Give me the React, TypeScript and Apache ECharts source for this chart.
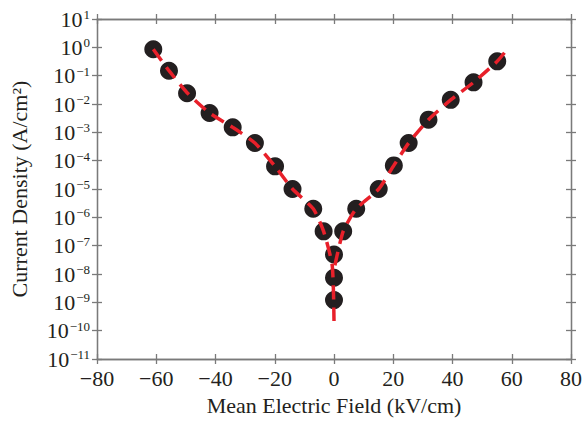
import React, { useEffect, useRef } from "react";
import * as echarts from "echarts";

// Measured points (Mean Electric Field kV/cm, Current Density A/cm^2)
const pointField = [-61, -55.7, -49.6, -42, -34.2, -26.7, -19.9, -14, -7, -3.5, 0, 0, 0, 3.1, 7.5, 15.1, 20.2, 25.2, 31.9, 39.4, 47.1, 55.1];
const pointCurrent = [0.86, 0.15, 0.024, 4.8e-3, 1.5e-3, 4.2e-4, 6.3e-5, 1.0e-5, 2.0e-6, 3.2e-7, 4.9e-8, 7.4e-9, 1.2e-9, 3.2e-7, 2.0e-6, 1.0e-5, 6.8e-5, 4.2e-4, 2.8e-3, 1.4e-2, 5.8e-2, 0.32];

// Fit curve (negative field branch, running down to the centre)
const fitLeftField = [-61, -55.7, -49.6, -42, -34.2, -26.7, -19.9, -14, -7, -3.5, -0.6, 0];
const fitLeftCurrent = [0.85, 0.15, 0.025, 4.8e-3, 1.5e-3, 4.2e-4, 6.3e-5, 1.0e-5, 2.0e-6, 3.2e-7, 2.0e-8, 2.2e-10];
// Fit curve (positive field branch)
const fitRightField = [0.3, 3.1, 7.5, 15.1, 20.2, 25.2, 31.9, 39.4, 47.1, 55.1, 58.3];
const fitRightCurrent = [2.0e-8, 3.2e-7, 2.0e-6, 1.0e-5, 6.8e-5, 4.2e-4, 2.8e-3, 1.4e-2, 5.8e-2, 0.32, 0.81];

const xTicks = { min: -80, max: 80, interval: 20 };
const yRange = { min: 1e-11, max: 10 };

const FONT = "Liberation Serif";
const TXT = "#231f20";
const AX = "#7a7a7a";

export default function App() {
  const ref = useRef<HTMLDivElement>(null);
  useEffect(() => {
    if (!ref.current) return;
    const chart = echarts.init(ref.current, undefined, { renderer: "svg" });
    const pts = pointField.map((x, i) => [x, pointCurrent[i]]);
    const fl = fitLeftField.map((x, i) => [x, fitLeftCurrent[i]]);
    const fr = fitRightField.map((x, i) => [x, fitRightCurrent[i]]);

    const xBase = (position: string, inside: boolean, labels: boolean) => ({
      type: "value",
      position,
      min: xTicks.min,
      max: xTicks.max,
      interval: xTicks.interval,
      axisLine: { show: true, onZero: false, lineStyle: { color: AX, width: 1.3 } },
      axisTick: { show: true, inside, length: 5, lineStyle: { color: AX, width: 1.3 } },
      axisLabel: {
        show: labels,
        margin: 8,
        fontFamily: FONT,
        fontSize: 22,
        color: TXT,
        formatter: (v: number) => (v < 0 ? "\u2212" + Math.abs(v) : String(v)),
      },
      splitLine: { show: false },
      name: labels ? "Mean Electric Field (kV/cm)" : "",
      nameLocation: "middle",
      nameGap: 35,
      nameTextStyle: { fontFamily: FONT, fontSize: 22, color: TXT },
    });
    const yBase = (position: string, inside: boolean, labels: boolean) => ({
      type: "log",
      logBase: 10,
      position,
      min: yRange.min,
      max: yRange.max,
      interval: 1,
      axisLine: { show: true, onZero: false, lineStyle: { color: AX, width: 1.3 } },
      axisTick: { show: true, inside, length: 5, lineStyle: { color: AX, width: 1.3 } },
      axisLabel: {
        show: labels,
        margin: 7,
        fontFamily: FONT,
        color: TXT,
        formatter: (v: number) => {
          const e = Math.round(Math.log10(v));
          const s = e < 0 ? "\u2212" + Math.abs(e) : String(e);
          return "{b|10}{s|" + s + "}";
        },
        rich: {
          b: { fontFamily: FONT, fontSize: 22, color: TXT, verticalAlign: "bottom", lineHeight: 22 },
          s: { fontFamily: FONT, fontSize: 13, color: TXT, verticalAlign: "top", lineHeight: 22, padding: [0, 0, 9, 1] },
        },
      },
      splitLine: { show: false },
      name: labels ? "Current Density (A/cm\u00b2)" : "",
      nameLocation: "middle",
      nameGap: 67,
      nameTextStyle: { fontFamily: FONT, fontSize: 22, color: TXT },
    });

    chart.setOption({
      animation: false,
      backgroundColor: "#ffffff",
      grid: { left: 97, top: 19, right: 12, bottom: 61, containLabel: false },
      xAxis: [
        xBase("bottom", false, true),
        xBase("bottom", true, false),
        xBase("top", false, false),
        xBase("top", true, false),
      ],
      yAxis: [
        yBase("left", false, true),
        yBase("left", true, false),
        yBase("right", false, false),
        yBase("right", true, false),
      ],
      series: [
        {
          type: "scatter",
          xAxisIndex: 0,
          yAxisIndex: 0,
          data: pts,
          symbol: "circle",
          symbolSize: 18,
          itemStyle: { color: "#231f20", opacity: 1 },
          z: 2,
        },
        {
          type: "line",
          xAxisIndex: 0,
          yAxisIndex: 0,
          data: fl,
          symbol: "none",
          smooth: 0.2,
          lineStyle: { color: "#e8202a", width: 3.5, type: [14, 8] },
          z: 3,
        },
        {
          type: "line",
          xAxisIndex: 0,
          yAxisIndex: 0,
          data: fr,
          symbol: "none",
          smooth: 0.2,
          lineStyle: { color: "#e8202a", width: 3.5, type: [14, 8] },
          z: 3,
        },
      ],
    });
    return () => chart.dispose();
  }, []);
  return <div ref={ref} style={{ position: "absolute", left: 0, top: 0, width: 585, height: 421 }} />;
}
